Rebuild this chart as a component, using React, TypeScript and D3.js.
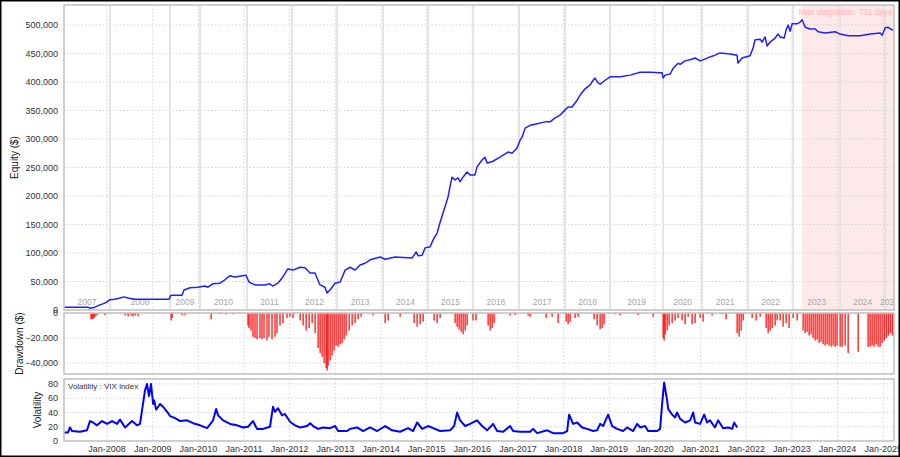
import React from 'react';
import * as d3 from 'd3';

// equity curve, [date, $]
const equity: [string, number][] = [
  ['2007-01-22', 5000], ['2007-08-01', 5000], ['2007-08-17', 3000], ['2007-09-26', 5000], ['2007-11-05', 9000], ['2007-12-15', 12000],
  ['2008-01-25', 18000], ['2008-03-05', 19000], ['2008-04-14', 21000], ['2008-05-16', 23000], ['2008-06-17', 21000], ['2008-08-12', 19000], ['2008-12-10', 19000],
  ['2009-05-11', 19000], ['2009-05-27', 26000], ['2009-08-23', 26000], ['2009-09-08', 35000], ['2009-10-26', 39000], ['2009-12-29', 40000],
  ['2010-02-22', 42000], ['2010-03-18', 40000], ['2010-04-27', 46000], ['2010-06-22', 47000], ['2010-08-01', 53000], ['2010-09-10', 60000], ['2010-10-20', 58000],
  ['2011-01-17', 61000], ['2011-02-10', 49000], ['2011-03-29', 44000], ['2011-06-17', 44000], ['2011-07-27', 46000], ['2011-08-20', 42000], ['2011-09-29', 47000], ['2011-11-08', 58000], ['2011-12-18', 72000],
  ['2012-01-28', 70000], ['2012-03-24', 75000], ['2012-05-03', 74000], ['2012-06-12', 65000], ['2012-07-22', 65000], ['2012-08-31', 44000], ['2012-10-10', 40000], ['2012-10-26', 30000], ['2012-11-19', 35000], ['2012-12-29', 47000],
  ['2013-02-08', 49000], ['2013-03-20', 70000], ['2013-04-29', 75000], ['2013-06-08', 70000], ['2013-07-18', 79000], ['2013-08-27', 82000], ['2013-10-06', 88000], ['2013-12-25', 93000],
  ['2014-02-03', 89000], ['2014-04-24', 93000], ['2014-09-07', 91000], ['2014-10-09', 102000], ['2014-10-25', 95000], ['2014-11-26', 96000], ['2014-12-20', 109000],
  ['2015-01-29', 111000], ['2015-02-22', 123000], ['2015-03-26', 135000], ['2015-04-18', 153000], ['2015-05-28', 181000], ['2015-06-21', 198000], ['2015-07-07', 216000], ['2015-07-23', 233000], ['2015-08-16', 228000], ['2015-09-09', 232000], ['2015-09-25', 225000], ['2015-10-19', 233000], ['2015-11-20', 242000], ['2015-12-14', 237000],
  ['2016-01-23', 237000], ['2016-02-08', 251000], ['2016-03-19', 263000], ['2016-04-12', 268000], ['2016-04-28', 258000], ['2016-06-07', 260000], ['2016-08-10', 268000], ['2016-10-13', 277000], ['2016-11-14', 275000], ['2016-12-24', 284000],
  ['2017-01-18', 298000], ['2017-02-03', 303000], ['2017-02-27', 319000], ['2017-04-08', 324000], ['2017-05-18', 326000], ['2017-08-06', 330000], ['2017-09-15', 330000], ['2017-10-25', 337000], ['2017-12-04', 342000],
  ['2018-01-13', 351000], ['2018-02-06', 356000], ['2018-03-10', 356000], ['2018-04-19', 368000], ['2018-05-13', 377000], ['2018-06-22', 388000], ['2018-08-01', 395000], ['2018-08-25', 403000], ['2018-09-10', 407000], ['2018-09-26', 400000], ['2018-10-20', 396000], ['2018-11-29', 403000],
  ['2019-01-08', 409000], ['2019-03-29', 409000], ['2019-06-17', 412000], ['2019-09-05', 417000], ['2019-11-24', 417000],
  ['2020-02-12', 416000], ['2020-02-28', 416000], ['2020-03-07', 407000], ['2020-03-23', 412000], ['2020-05-02', 414000], ['2020-05-26', 424000], ['2020-07-05', 433000], ['2020-07-21', 431000], ['2020-08-30', 437000], ['2020-10-09', 439000], ['2020-11-18', 442000], ['2020-12-28', 437000],
  ['2021-02-05', 440000], ['2021-03-17', 444000], ['2021-04-26', 447000], ['2021-06-05', 451000], ['2021-08-24', 449000], ['2021-10-19', 447000], ['2021-10-27', 433000], ['2021-11-28', 442000],
  ['2022-02-01', 446000], ['2022-02-25', 460000], ['2022-03-13', 474000], ['2022-04-22', 475000], ['2022-05-08', 470000], ['2022-06-01', 479000], ['2022-06-17', 463000], ['2022-07-11', 470000], ['2022-08-20', 477000], ['2022-09-13', 484000], ['2022-09-29', 479000], ['2022-10-31', 477000], ['2022-11-16', 491000], ['2022-12-02', 500000], ['2022-12-18', 489000],
  ['2023-01-03', 502000], ['2023-02-12', 502000], ['2023-03-08', 505000], ['2023-03-24', 509000], ['2023-04-17', 496000], ['2023-05-27', 493000], ['2023-07-06', 493000], ['2023-07-30', 488000], ['2023-09-24', 486000], ['2023-12-13', 488000],
  ['2024-01-22', 484000], ['2024-03-26', 481000], ['2024-06-30', 481000], ['2024-09-18', 484000], ['2024-12-07', 486000], ['2024-12-23', 482000],
  ['2025-01-17', 495000], ['2025-02-10', 496000], ['2025-02-26', 493000], ['2025-03-22', 491000],
];

// drawdown bars, [date, $]
const drawdown: [string, number][] = [
  ['2007-08-26', -5000], ['2007-09-03', -5000], ['2007-09-11', -4500], ['2007-09-19', -4000], ['2007-09-27', -3000], ['2007-10-13', -2000], ['2007-12-16', -1500],
  ['2008-05-25', -2000], ['2008-06-18', -2500], ['2008-07-12', -2000], ['2008-07-28', -2500], ['2008-08-13', -2000], ['2008-09-06', -2500],
  ['2009-05-28', -6000], ['2009-06-05', -4000], ['2009-08-24', -1500], ['2009-09-17', -1500],
  ['2010-04-13', -5000], ['2010-06-24', -1000], ['2010-08-11', -1200], ['2010-10-06', -1000],
  ['2011-02-02', -10000], ['2011-02-10', -12000], ['2011-02-26', -14000], ['2011-03-14', -19000], ['2011-03-30', -20000], ['2011-04-15', -21000], ['2011-05-09', -20000], ['2011-05-25', -21000], ['2011-06-10', -20000], ['2011-07-04', -22000], ['2011-07-20', -19000], ['2011-08-13', -21000], ['2011-09-06', -19000], ['2011-09-22', -16000], ['2011-10-16', -10000], ['2011-11-09', -8000], ['2011-12-11', -4000],
  ['2012-01-04', -3000], ['2012-01-28', -4000], ['2012-03-25', -6000], ['2012-04-18', -10000], ['2012-05-12', -14000], ['2012-06-05', -12000], ['2012-06-29', -8000], ['2012-07-23', -16000], ['2012-08-16', -28000], ['2012-09-01', -32000], ['2012-09-17', -35000], ['2012-10-03', -40000], ['2012-10-19', -44000], ['2012-10-27', -46000], ['2012-11-04', -42000], ['2012-11-20', -38000], ['2012-12-06', -34000], ['2012-12-22', -30000],
  ['2013-01-07', -26000], ['2013-01-23', -27000], ['2013-02-08', -25000], ['2013-02-24', -24000], ['2013-03-12', -21000], ['2013-03-28', -18000], ['2013-04-21', -14000], ['2013-05-15', -10000], ['2013-06-08', -8000], ['2013-07-02', -5000], ['2013-07-26', -3000], ['2013-10-30', -2000],
  ['2014-02-03', -8000], ['2014-02-27', -6000], ['2014-06-03', -3000], ['2014-09-23', -8000], ['2014-10-17', -11000], ['2014-11-10', -9000], ['2014-12-04', -7000],
  ['2015-03-02', -6000], ['2015-03-26', -8000], ['2015-04-19', -4000], ['2015-08-17', -8000], ['2015-09-02', -11000], ['2015-09-18', -13000], ['2015-10-04', -15000], ['2015-10-20', -17000], ['2015-11-05', -14000], ['2015-11-21', -10000],
  ['2016-01-07', -6000], ['2016-01-31', -6000], ['2016-05-07', -10000], ['2016-05-23', -14000], ['2016-06-08', -12000], ['2016-06-24', -8000], ['2016-10-30', -2000], ['2016-12-09', -1500],
  ['2017-03-23', -2000], ['2017-04-08', -3000], ['2017-08-14', -4000], ['2017-10-01', -3000], ['2017-11-18', -8000],
  ['2018-01-21', -7000], ['2018-02-06', -9000], ['2018-02-22', -7000], ['2018-04-03', -4000], ['2018-04-27', -3000], ['2018-09-02', -5000], ['2018-09-26', -10000], ['2018-10-20', -13000], ['2018-11-05', -12000], ['2018-11-21', -9000],
  ['2019-02-17', -1000], ['2019-03-29', -2000], ['2019-08-20', -1500], ['2019-12-18', -3000],
  ['2020-03-07', -20000], ['2020-03-15', -22000], ['2020-03-23', -17000], ['2020-04-08', -14000], ['2020-04-24', -10000], ['2020-05-18', -8000], ['2020-06-11', -6000], ['2020-07-05', -4000], ['2020-08-06', -6000], ['2020-08-30', -9000], ['2020-09-23', -3000], ['2020-10-25', -9000], ['2020-11-18', -8000], ['2020-12-28', -4000],
  ['2021-01-21', -7000], ['2021-04-03', -2000], ['2021-06-22', -1000], ['2021-07-24', -5000], ['2021-10-20', -16000], ['2021-11-05', -19000], ['2021-11-21', -14000], ['2021-12-07', -6000],
  ['2022-02-17', -4000], ['2022-03-21', -6000], ['2022-04-22', -3000], ['2022-06-09', -12000], ['2022-06-25', -16000], ['2022-07-11', -14000], ['2022-07-27', -12000], ['2022-08-20', -10000], ['2022-09-05', -6000], ['2022-09-29', -6000], ['2022-10-23', -11000], ['2022-11-16', -8000], ['2022-12-10', -12000],
  ['2023-01-11', -4000], ['2023-02-12', -6000], ['2023-04-01', -14000], ['2023-04-17', -16000], ['2023-05-03', -15000], ['2023-05-19', -18000], ['2023-06-04', -17000], ['2023-06-20', -20000], ['2023-07-06', -22000], ['2023-07-22', -21000], ['2023-08-07', -24000], ['2023-08-23', -23000], ['2023-09-08', -25000], ['2023-09-24', -26000], ['2023-10-10', -25000], ['2023-10-26', -26000], ['2023-11-11', -27000], ['2023-11-27', -26000], ['2023-12-13', -27000], ['2023-12-28', -26000],
  ['2024-01-22', -27000], ['2024-02-07', -27000], ['2024-03-02', -26000], ['2024-03-26', -32000], ['2024-06-14', -31000], ['2024-09-02', -27000], ['2024-09-18', -27000], ['2024-10-04', -26000], ['2024-10-20', -27000], ['2024-11-05', -25000], ['2024-11-21', -27000], ['2024-12-07', -27000], ['2024-12-23', -24000],
  ['2025-01-09', -22000], ['2025-01-25', -20000], ['2025-02-10', -18000], ['2025-02-26', -16000], ['2025-03-14', -18000],
];

// VIX index
const vix: [string, number][] = [
  ['2007-01-22', 12], ['2007-02-23', 12], ['2007-03-11', 19], ['2007-03-27', 14], ['2007-05-30', 13], ['2007-07-25', 15], ['2007-08-18', 28], ['2007-09-11', 26], ['2007-10-13', 22], ['2007-11-22', 28],
  ['2008-01-02', 24], ['2008-02-10', 28], ['2008-03-21', 24], ['2008-04-14', 30], ['2008-05-25', 19], ['2008-07-19', 28], ['2008-08-28', 22], ['2008-09-21', 24], ['2008-10-15', 52], ['2008-10-31', 71], ['2008-11-16', 80], ['2008-12-02', 63], ['2008-12-18', 80],
  ['2009-01-04', 52], ['2009-01-12', 57], ['2009-01-28', 44], ['2009-02-13', 48], ['2009-03-01', 52], ['2009-03-25', 48], ['2009-04-26', 41], ['2009-05-20', 35], ['2009-06-29', 32], ['2009-08-08', 28], ['2009-10-03', 29], ['2009-11-20', 25],
  ['2010-01-15', 22], ['2010-03-12', 18], ['2010-04-29', 29], ['2010-05-23', 45], ['2010-06-08', 36], ['2010-07-18', 29], ['2010-09-12', 24], ['2010-11-07', 22], ['2010-12-25', 19],
  ['2011-02-02', 20], ['2011-03-14', 28], ['2011-04-15', 17], ['2011-06-02', 17], ['2011-07-28', 20], ['2011-08-21', 48], ['2011-09-06', 41], ['2011-09-30', 46], ['2011-11-01', 36], ['2011-11-25', 38],
  ['2012-01-04', 27], ['2012-02-13', 22], ['2012-03-25', 19], ['2012-05-20', 21], ['2012-06-13', 25], ['2012-07-07', 21], ['2012-08-16', 17], ['2012-09-25', 19], ['2012-11-20', 18], ['2012-12-30', 21],
  ['2013-01-23', 14], ['2013-04-05', 14], ['2013-04-29', 17], ['2013-06-24', 19], ['2013-08-11', 14], ['2013-10-06', 19], ['2013-12-01', 14],
  ['2014-02-03', 21], ['2014-03-31', 15], ['2014-06-03', 13], ['2014-08-06', 18], ['2014-09-15', 14], ['2014-10-17', 26], ['2014-11-26', 17],
  ['2015-01-13', 21], ['2015-02-22', 18], ['2015-04-19', 14], ['2015-07-08', 15], ['2015-08-09', 21], ['2015-09-02', 40], ['2015-09-26', 29], ['2015-11-05', 21], ['2015-12-15', 24],
  ['2016-01-07', 26], ['2016-02-08', 29], ['2016-03-20', 21], ['2016-04-29', 15], ['2016-06-16', 24], ['2016-07-18', 14], ['2016-09-04', 13], ['2016-10-30', 21], ['2016-11-23', 14],
  ['2017-01-18', 13], ['2017-04-08', 13], ['2017-05-02', 17], ['2017-06-03', 11], ['2017-08-22', 15], ['2017-10-09', 11], ['2017-12-28', 11],
  ['2018-01-29', 14], ['2018-02-14', 37], ['2018-03-18', 24], ['2018-04-19', 26], ['2018-05-29', 19], ['2018-07-08', 17], ['2018-08-25', 14], ['2018-09-26', 15], ['2018-10-20', 24], ['2018-11-13', 21], ['2018-12-23', 37],
  ['2019-01-24', 21], ['2019-03-05', 17], ['2019-04-22', 14], ['2019-05-24', 19], ['2019-07-11', 14], ['2019-08-12', 24], ['2019-09-05', 19], ['2019-10-15', 21], ['2019-11-08', 14],
  ['2020-01-19', 14], ['2020-02-12', 17], ['2020-02-28', 52], ['2020-03-15', 82], ['2020-04-08', 57], ['2020-04-16', 45], ['2020-05-18', 37], ['2020-06-11', 33], ['2020-06-27', 40], ['2020-07-21', 31], ['2020-08-30', 26], ['2020-10-09', 29], ['2020-11-02', 40], ['2020-11-18', 26], ['2020-12-28', 24],
  ['2021-01-29', 37], ['2021-02-22', 26], ['2021-03-17', 29], ['2021-04-26', 19], ['2021-05-21', 29], ['2021-06-30', 18], ['2021-08-09', 19], ['2021-09-10', 17], ['2021-09-26', 26], ['2021-10-20', 19],
];

// first trade of each year (solid separators in the equity panel)
const yearBreaks = [
  '2008-01-25', '2009-05-19', '2010-01-14', '2011-01-25', '2012-01-20', '2013-01-15', '2014-01-18', '2015-01-12', '2016-01-07',
  '2017-01-10', '2018-01-13', '2019-01-08', '2020-03-07', '2021-01-13', '2022-01-16', '2023-01-11', '2024-01-22', '2025-01-16',
];
const yearNames = [
  '2007', '2008', '2009', '2010', '2011', '2012', '2013', '2014', '2015', '2016',
  '2017', '2018', '2019', '2020', '2021', '2022', '2023', '2024', '2025',
];

const equityTicks = [0, 50000, 100000, 150000, 200000, 250000, 300000, 350000, 400000, 450000, 500000];
const drawdownTicks = [0, -20000, -40000];
const vixTicks = [0, 20, 40, 60, 80];

const stagnationStart = '2023-03-24';
const stagnationLabel = 'Max stagnation: 731 days';

const W = 900;
const H = 457;
const left = 64;
const right = 894;
const font = '"Liberation Sans", Arial, sans-serif';
const gridColor = '#d4d4d4';
const borderColor = '#c4c4c4';

const parse = d3.timeParse('%Y-%m-%d');
const pd = (s: string) => parse(s) as Date;
const fmtNum = d3.format(',');
const fmtTick = d3.timeFormat('Jan-%Y');

const App: React.FC = () => {
  const x = d3.scaleTime()
    .domain([pd('2007-01-22'), pd('2025-03-28')])
    .range([left, right]);

  const eq = { top: 5, bottom: 310 };
  const dd = { top: 313, bottom: 374 };
  const vp = { top: 379, bottom: 441 };

  const yEq = d3.scaleLinear().domain([0, 535000]).range([eq.bottom, eq.top]);
  const yDd = d3.scaleLinear().domain([-48800, 0]).range([dd.bottom, dd.top]);
  const yVix = d3.scaleLinear().domain([0, 87]).range([vp.bottom, vp.top]);

  const xTicks = d3.timeYear.range(pd('2008-01-01'), pd('2025-06-01'));

  const eqLine = d3.line<[string, number]>()
    .x(d => x(pd(d[0])))
    .y(d => yEq(d[1]))(equity) || '';
  const vixLine = d3.line<[string, number]>()
    .x(d => x(pd(d[0])))
    .y(d => yVix(d[1]))(vix) || '';

  const breaksX = [left, ...yearBreaks.map(s => x(pd(s))), right];

  const vGrid = (top: number, bottom: number) =>
    xTicks.map((t, i) => (
      <line key={'vg' + i} x1={x(t)} x2={x(t)} y1={top} y2={bottom}
        stroke={gridColor} strokeDasharray="1.5,2" />
    ));

  const panel = (p: { top: number; bottom: number }) => (
    <rect x={left} y={p.top} width={right - left} height={p.bottom - p.top}
      fill="none" stroke={borderColor} strokeWidth={1.6} />
  );

  return (
    <div style={{ position: 'absolute', left: 0, top: 0 }}>
      <svg width={W} height={H} style={{ display: 'block', fontFamily: font }}>
        <defs>
          <clipPath id="clipEq"><rect x={left} y={eq.top} width={right - left} height={eq.bottom - eq.top} /></clipPath>
          <clipPath id="clipDd"><rect x={left} y={dd.top} width={right - left} height={dd.bottom - dd.top} /></clipPath>
          <clipPath id="clipVp"><rect x={left} y={vp.top} width={right - left} height={vp.bottom - vp.top} /></clipPath>
        </defs>
        <rect x={0} y={0} width={W} height={H} fill="#fff" />

        {/* equity panel */}
        <g clipPath="url(#clipEq)">
          <rect x={x(pd(stagnationStart))} y={eq.top} width={right - x(pd(stagnationStart))}
            height={eq.bottom - eq.top} fill="#fde9e9" />
          {equityTicks.map(t => (
            <line key={t} x1={left} x2={right} y1={yEq(t)} y2={yEq(t)} stroke={gridColor} strokeDasharray="1.5,2" />
          ))}
          {vGrid(eq.top, eq.bottom)}
          {breaksX.slice(1, -1).map((bx, i) => (
            <line key={'yb' + i} x1={bx} x2={bx} y1={eq.top} y2={eq.bottom} stroke="#e2e2e2" strokeWidth={1.8} />
          ))}
          {yearNames.map((n, i) => (
            <text key={n} x={(breaksX[i] + breaksX[i + 1]) / 2} y={305} textAnchor="middle"
              fontSize={8.5} fill="#a6a6a6">{n}</text>
          ))}
          <path d={eqLine} fill="none" stroke="#1f1fff" strokeWidth={1.5} strokeLinejoin="round" />
          <text x={right - 2} y={15} textAnchor="end" fontSize={8.2} fill="#ffb4b4">{stagnationLabel}</text>
        </g>
        {panel(eq)}
        {equityTicks.map(t => (
          <text key={'el' + t} x={58} y={yEq(t)} dy="0.35em" textAnchor="end" fontSize={9} fill="#333">{fmtNum(t)}</text>
        ))}
        <text transform={`translate(18,${(eq.top + eq.bottom) / 2}) rotate(-90)`} textAnchor="middle"
          fontSize={10} fill="#222">Equity ($)</text>

        {/* drawdown panel */}
        <g clipPath="url(#clipDd)">
          {drawdownTicks.map(t => (
            <line key={t} x1={left} x2={right} y1={yDd(t)} y2={yDd(t)} stroke={gridColor} strokeDasharray="1.5,2" />
          ))}
          {vGrid(dd.top, dd.bottom)}
          {drawdown.map((d, i) => (
            <line key={'dd' + i} x1={x(pd(d[0]))} x2={x(pd(d[0]))} y1={yDd(0)} y2={yDd(d[1])}
              stroke="#ff0000" strokeWidth={1.2} />
          ))}
        </g>
        {panel(dd)}
        {drawdownTicks.map(t => (
          <text key={'dl' + t} x={58} y={yDd(t)} dy="0.35em" textAnchor="end" fontSize={9} fill="#333">{fmtNum(t)}</text>
        ))}
        <text transform={`translate(23,${(dd.top + dd.bottom) / 2}) rotate(-90)`} textAnchor="middle"
          fontSize={10} fill="#222">Drawdown ($)</text>

        {/* volatility panel */}
        <g clipPath="url(#clipVp)">
          {vixTicks.map(t => (
            <line key={t} x1={left} x2={right} y1={yVix(t)} y2={yVix(t)} stroke={gridColor} strokeDasharray="1.5,2" />
          ))}
          {vGrid(vp.top, vp.bottom)}
          <path d={vixLine} fill="none" stroke="#0000ff" strokeWidth={2} strokeLinejoin="round" />
          <text x={68} y={389} fontSize={8} fill="#333">Volatility : VIX index</text>
        </g>
        {panel(vp)}
        {vixTicks.map(t => (
          <text key={'vl' + t} x={58} y={yVix(t)} dy="0.35em" textAnchor="end" fontSize={9} fill="#333">{t}</text>
        ))}
        <text transform={`translate(41,${(vp.top + vp.bottom) / 2}) rotate(-90)`} textAnchor="middle"
          fontSize={10} fill="#222">Volatility</text>
        {xTicks.map((t, i) => (
          <text key={'xt' + i} x={x(t)} y={452} textAnchor="middle" fontSize={9} fill="#333">{fmtTick(t)}</text>
        ))}

        <rect x={0.75} y={0.75} width={W - 1.5} height={H - 1.5} fill="none" stroke="#000" strokeWidth={1.5} />
      </svg>
    </div>
  );
};

export default App;
